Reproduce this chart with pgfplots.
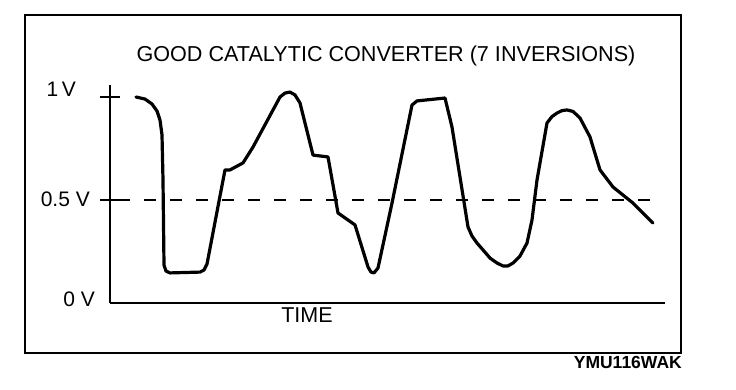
\documentclass[border=0pt]{standalone}
\usepackage{fontspec}
\setmainfont{Liberation Sans}
\usepackage{pgfplots}
\pgfplotsset{compat=1.18}
\begin{document}
\begin{tikzpicture}
\begin{axis}[
  scale only axis,
  width=555bp, height=218bp,
  xmin=110, xmax=665,
  ymin=0, ymax=1.0583,
  axis x line=bottom, axis y line=left,
  axis line style={-, line width=1.6bp, black},
  xtick=\empty,
  ytick={0.5,1},
  yticklabels={},
  major tick length=20bp,
  tick align=center,
  tick style={line width=1.2bp, black},
  clip=false,
]
% bounding box = full reference canvas
\path[use as bounding box] (axis cs:0,-0.4223) rectangle (axis cs:736,1.4709);
% outer frame
\draw[line width=1.8bp] (axis cs:25,1.3981) rectangle (axis cs:681,-0.2427);
% reference line at 0.5 V
\addplot[black, line width=1.2bp, dash pattern=on 12bp off 14bp] coordinates {(118,0.5) (657,0.5)};
% sensor signal
\addplot[black, line width=3.2bp, line join=round, line cap=round] coordinates {
(136,1.000) (145,0.990) (152,0.966) (157,0.932) (160,0.888) (162,0.816)
(163,0.597) (164,0.184) (166,0.155) (170,0.146) (200,0.150) (204,0.160) (207,0.189)
(225,0.646) (230,0.646) (243,0.680) (253,0.757) (280,1.000) (285,1.019) (290,1.024)
(295,1.010) (300,0.971) (313,0.718) (328,0.709) (338,0.437) (355,0.379) (368,0.175)
(371,0.150) (374,0.146) (378,0.170) (392,0.485) (412,0.961) (417,0.981) (445,0.995)
(452,0.854) (468,0.369) (472,0.325) (477,0.291) (484,0.252) (490,0.218) (497,0.194)
(503,0.180) (508,0.180) (513,0.194) (520,0.228) (527,0.291) (532,0.403) (537,0.597)
(547,0.874) (552,0.905) (557,0.922) (562,0.934) (567,0.937) (573,0.930) (580,0.898)
(590,0.806) (600,0.646) (613,0.563) (633,0.485) (653,0.388)
};
% texts
\node[anchor=base, inner sep=0pt, font=\fontsize{21.6bp}{25bp}\selectfont] at (axis cs:386,1.1699) {GOOD CATALYTIC CONVERTER (7 INVERSIONS)};
\node[anchor=base east, inner sep=0pt, font=\fontsize{21bp}{25bp}\selectfont] at (axis cs:76,1.0) {1\,V};
\node[anchor=base east, inner sep=0pt, font=\fontsize{21bp}{25bp}\selectfont] at (axis cs:90,0.466) {0.5 V};
\node[anchor=base east, inner sep=0pt, font=\fontsize{21bp}{25bp}\selectfont] at (axis cs:95,-0.015) {0 V};
\node[anchor=base, inner sep=0pt, font=\fontsize{21.5bp}{25bp}\selectfont] at (axis cs:307,-0.0971) {TIME};
\node[anchor=base east, inner sep=0pt, font=\bfseries\fontsize{17.5bp}{21bp}\selectfont] at (axis cs:682,-0.3204) {YMU116WAK};
\end{axis}
\end{tikzpicture}
\end{document}
